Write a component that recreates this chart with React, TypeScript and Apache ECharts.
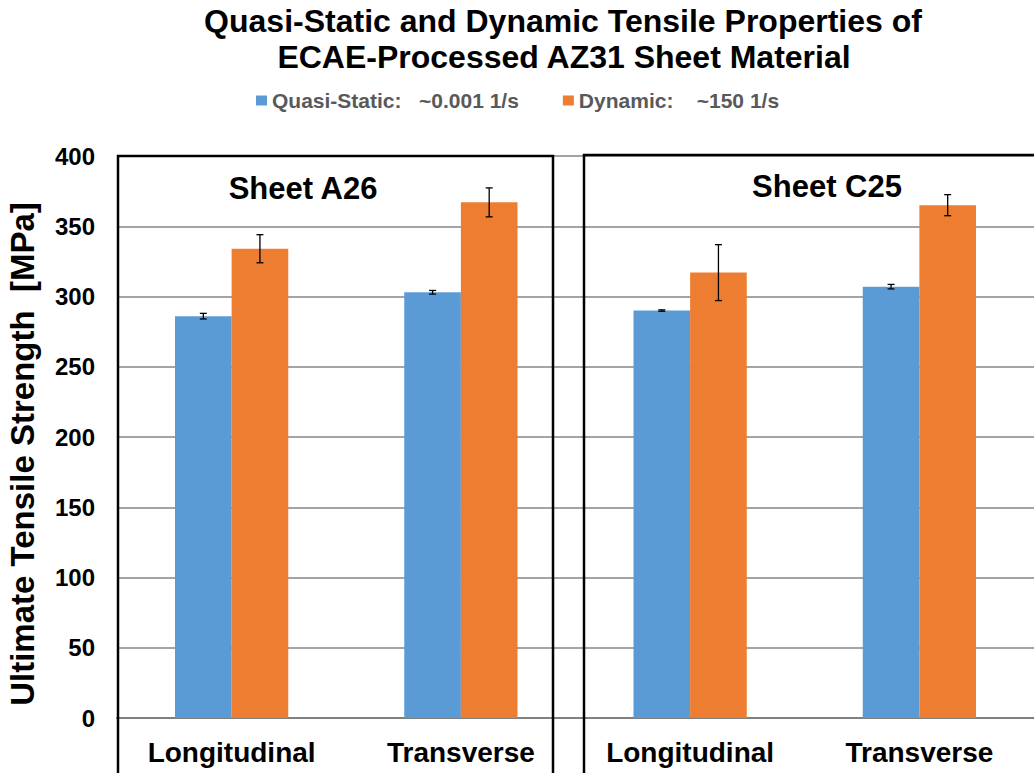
import React, { useEffect, useRef } from "react";
import * as echarts from "echarts";

// Orientation labels, one per bar pair (two sheets, two orientations each)
const categories = ["Longitudinal", "Transverse", "Longitudinal", "Transverse"];
const sheetNames = ["Sheet A26", "Sheet C25"];

// Ultimate tensile strength [MPa]
const quasiStatic = [286, 303, 290, 307];
const quasiStaticErr = [2, 1.3, 0.5, 1.6];
const dynamic = [334, 367, 317, 365];
const dynamicErr = [10, 10.3, 19.9, 7.5];

const yTicks = { min: 0, max: 400, interval: 50 };

const seriesNames = ["Quasi-Static:   ~0.001 1/s", "Dynamic:    ~150 1/s"];
const colors = ["#5B9BD5", "#ED7D31"];

const FONT = "'Liberation Sans', Arial, sans-serif";
const BAR_FRACTION = 0.247;

function errorSeries(values: number[], errs: number[], side: number) {
  return {
    type: "custom",
    silent: true,
    z: 10,
    data: values.map((v, i) => [i, v - errs[i], v + errs[i]]),
    renderItem: (params: any, api: any) => {
      const idx = api.value(0);
      const band = api.size([1, 0])[0];
      const dx = side * band * BAR_FRACTION / 2;
      const lo = api.coord([idx, api.value(1)]);
      const hi = api.coord([idx, api.value(2)]);
      const x = lo[0] + dx;
      const cap = 3.5;
      const style = { stroke: "#000", lineWidth: 1.3 };
      return {
        type: "group",
        children: [
          { type: "line", shape: { x1: x, y1: lo[1], x2: x, y2: hi[1] }, style },
          { type: "line", shape: { x1: x - cap, y1: lo[1], x2: x + cap, y2: lo[1] }, style },
          { type: "line", shape: { x1: x - cap, y1: hi[1], x2: x + cap, y2: hi[1] }, style },
        ],
      };
    },
  };
}

export default function App() {
  const ref = useRef<HTMLDivElement>(null);

  useEffect(() => {
    if (!ref.current) return;
    const chart = echarts.init(ref.current, null, { renderer: "svg" });
    chart.setOption({
      animation: false,
      backgroundColor: "#ffffff",
      color: colors,
      textStyle: { fontFamily: FONT },
      legend: {
        data: seriesNames,
        left: 256,
        top: 90,
        padding: 0,
        itemWidth: 11,
        itemHeight: 10,
        itemGap: 44,
        icon: "rect",
        textStyle: { color: "#595959", fontSize: 21, fontWeight: "bold", fontFamily: FONT },
      },
      grid: { left: 117, right: -9, top: 156, bottom: 55 },
      xAxis: {
        type: "category",
        data: categories,
        axisLine: { show: true, lineStyle: { color: "#808080", width: 2 } },
        axisTick: { show: false },
        axisLabel: {
          color: "#000",
          fontSize: 28,
          fontWeight: "bold",
          margin: 20,
          fontFamily: FONT,
        },
      },
      yAxis: {
        type: "value",
        min: yTicks.min,
        max: yTicks.max,
        interval: yTicks.interval,
        axisLine: { show: false },
        axisTick: { show: false },
        splitLine: { lineStyle: { color: "#868686", width: 1.6 } },
        axisLabel: {
          color: "#000",
          fontSize: 24,
          fontWeight: "bold",
          margin: 22,
          fontFamily: FONT,
        },
      },
      series: [
        {
          name: seriesNames[0],
          type: "bar",
          data: quasiStatic,
          barWidth: BAR_FRACTION * 100 + "%",
          barGap: "0%",
          itemStyle: { color: colors[0] },
        },
        {
          name: seriesNames[1],
          type: "bar",
          data: dynamic,
          barWidth: BAR_FRACTION * 100 + "%",
          barGap: "0%",
          itemStyle: { color: colors[1] },
        },
        errorSeries(quasiStatic, quasiStaticErr, -1),
        errorSeries(dynamic, dynamicErr, 1),
      ],
      graphic: [
        {
          type: "text",
          x: 563,
          y: 21,
          style: {
            text: "Quasi-Static and Dynamic Tensile Properties of",
            textAlign: "center",
            textVerticalAlign: "middle",
            fill: "#000",
            font: `bold 32px ${FONT}`,
          },
        },
        {
          type: "text",
          x: 564,
          y: 57,
          style: {
            text: "ECAE-Processed AZ31 Sheet Material",
            textAlign: "center",
            textVerticalAlign: "middle",
            fill: "#000",
            font: `bold 32px ${FONT}`,
          },
        },
        {
          type: "text",
          x: 22,
          y: 454,
          rotation: Math.PI / 2,
          style: {
            text: "Ultimate Tensile Strength  [MPa]",
            textAlign: "center",
            textVerticalAlign: "middle",
            fill: "#000",
            font: `bold 33px ${FONT}`,
          },
        },
        {
          type: "rect",
          shape: { x: 118, y: 156, width: 435, height: 640 },
          style: { fill: "none", stroke: "#000", lineWidth: 2.5 },
          z: 20,
        },
        {
          type: "rect",
          shape: { x: 584, y: 155, width: 480, height: 640 },
          style: { fill: "none", stroke: "#000", lineWidth: 2.5 },
          z: 20,
        },
        {
          type: "text",
          x: 303,
          y: 188,
          style: {
            text: sheetNames[0],
            textAlign: "center",
            textVerticalAlign: "middle",
            fill: "#000",
            font: `bold 31px ${FONT}`,
          },
        },
        {
          type: "text",
          x: 827,
          y: 186,
          style: {
            text: sheetNames[1],
            textAlign: "center",
            textVerticalAlign: "middle",
            fill: "#000",
            font: `bold 31px ${FONT}`,
          },
        },
      ],
    });
    return () => chart.dispose();
  }, []);

  return (
    <div
      style={{
        position: "fixed",
        left: 0,
        top: 0,
        width: 1034,
        height: 773,
        overflow: "hidden",
        background: "#fff",
      }}
    >
      <div ref={ref} style={{ width: 1034, height: 773 }} />
    </div>
  );
}
